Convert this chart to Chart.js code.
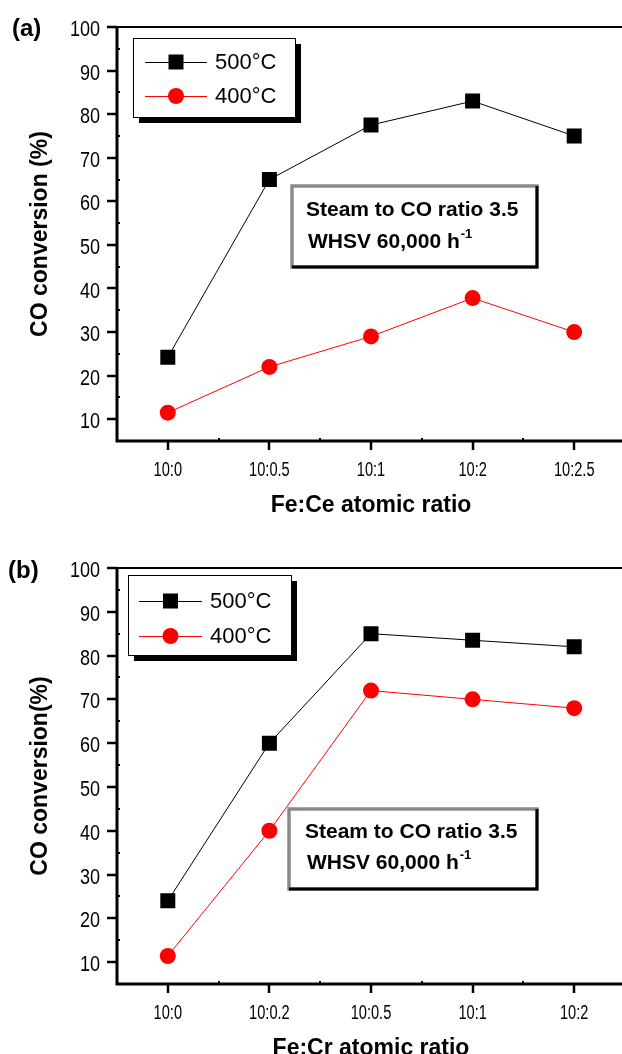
<!DOCTYPE html>
<html>
<head>
<meta charset="utf-8">
<script src="https://cdn.jsdelivr.net/npm/chart.js@4.4.0/dist/chart.umd.min.js"></script>
<style>
  html, body { margin: 0; padding: 0; background: #fff; overflow: hidden; width: 622px; height: 1054px; }
  canvas { position: absolute; left: 0; }
  #chartA { top: 0; }
  #chartB { top: 527px; }
</style>
</head>
<body>
<canvas id="chartA" width="640" height="527"></canvas>
<canvas id="chartB" width="640" height="545"></canvas>
<script>
// panel (a): Fe:Ce
const ceRatios = ['10:0', '10:0.5', '10:1', '10:2', '10:2.5'];
const ce500 = [24.2, 65, 77.5, 83, 75];
const ce400 = [11.5, 22, 29, 37.8, 30];

// panel (b): Fe:Cr
const crRatios = ['10:0', '10:0.2', '10:0.5', '10:1', '10:2'];
const cr500 = [24, 60, 85, 83.5, 82];
const cr400 = [11.4, 40, 72, 70, 68];

const yLabelTicks = [10, 20, 30, 40, 50, 60, 70, 80, 90, 100];
const yMinorTicks = [15, 25, 35, 45, 55, 65, 75, 85, 95];
const seriesNames = ['500°C', '400°C'];
const noteLines = ['Steam to CO ratio 3.5', 'WHSV 60,000 h'];

const FONT = "'Liberation Sans', Arial, sans-serif";

function marker(ctx, style, x, y) {
  ctx.beginPath();
  if (style === 'rect') {
    ctx.fillStyle = '#000';
    ctx.fillRect(x - 7.5, y - 7.5, 15, 15);
  } else {
    ctx.fillStyle = '#ff0000';
    ctx.arc(x, y, 8, 0, Math.PI * 2);
    ctx.fill();
  }
}

// squeezed text, the original uses a narrow face
function narrowText(ctx, text, x, y, sx) {
  ctx.save();
  ctx.translate(x, y);
  ctx.scale(sx, 1);
  ctx.fillText(text, 0, 0);
  ctx.restore();
}

const decor = {
  id: 'decor',
  afterDraw(chart, args, o) {
    const { ctx, chartArea: a, scales: { x, y } } = chart;
    ctx.save();
    ctx.strokeStyle = '#000';
    ctx.lineCap = 'butt';

    // frame
    ctx.lineWidth = 2;
    ctx.beginPath();
    ctx.moveTo(a.left, a.top);
    ctx.lineTo(a.right + 30, a.top);
    ctx.stroke();
    ctx.lineWidth = 3;
    ctx.beginPath();
    ctx.moveTo(a.left, a.top - 1);
    ctx.lineTo(a.left, a.bottom + 1.5);
    ctx.moveTo(a.left - 1.5, a.bottom);
    ctx.lineTo(a.right + 30, a.bottom);
    ctx.stroke();

    // y ticks + labels
    ctx.lineWidth = 2.5;
    ctx.beginPath();
    yLabelTicks.forEach(v => {
      const py = Math.round(y.getPixelForValue(v));
      ctx.moveTo(a.left - 10, py);
      ctx.lineTo(a.left, py);
    });
    ctx.stroke();
    ctx.lineWidth = 2;
    ctx.beginPath();
    yMinorTicks.forEach(v => {
      const py = Math.round(y.getPixelForValue(v));
      ctx.moveTo(a.left, py);
      ctx.lineTo(a.left + 3, py);
    });
    ctx.stroke();
    ctx.fillStyle = '#000';
    ctx.font = '22px ' + FONT;
    ctx.textAlign = 'right';
    ctx.textBaseline = 'middle';
    yLabelTicks.forEach(v => {
      narrowText(ctx, String(v), a.left - 17, y.getPixelForValue(v) + 3, 0.82);
    });

    // x ticks + labels
    const labels = chart.data.labels;
    const n = labels.length;
    const step = x.getPixelForValue(1) - x.getPixelForValue(0);
    ctx.lineWidth = 2.5;
    ctx.beginPath();
    for (let i = 0; i < n; i++) {
      const px = Math.round(x.getPixelForValue(i));
      ctx.moveTo(px, a.bottom);
      ctx.lineTo(px, a.bottom + 9);
    }
    ctx.stroke();
    ctx.lineWidth = 2;
    ctx.beginPath();
    for (let i = 0; i < n; i++) {
      const px = Math.round(x.getPixelForValue(i) + step / 2);
      ctx.moveTo(px, a.bottom);
      ctx.lineTo(px, a.bottom - 3);
    }
    ctx.stroke();
    ctx.font = '20px ' + FONT;
    ctx.textAlign = 'center';
    for (let i = 0; i < n; i++) {
      narrowText(ctx, labels[i], x.getPixelForValue(i), a.bottom + o.xLabelDy, 0.73);
    }

    // panel letter
    ctx.font = 'bold 24px ' + FONT;
    ctx.textAlign = 'left';
    ctx.fillText(o.letter, o.letterX, o.letterY);

    // legend box
    const L = o.legend;
    ctx.fillStyle = '#000';
    ctx.fillRect(L.x + 6, L.y + 6, L.w, L.h);
    ctx.fillStyle = '#fff';
    ctx.fillRect(L.x, L.y, L.w, L.h);
    ctx.lineWidth = 1;
    ctx.strokeStyle = '#000';
    ctx.strokeRect(L.x + 0.5, L.y + 0.5, L.w, L.h);
    chart.data.datasets.forEach((ds, i) => {
      const ly = L.rows[i];
      ctx.strokeStyle = ds.borderColor;
      ctx.lineWidth = 1;
      ctx.beginPath();
      ctx.moveTo(L.lineX0, ly + 0.5);
      ctx.lineTo(L.lineX1, ly + 0.5);
      ctx.stroke();
      marker(ctx, ds.pointStyle, (L.lineX0 + L.lineX1) / 2, ly);
      ctx.fillStyle = '#000';
      ctx.font = '22px ' + FONT;
      ctx.textBaseline = 'middle';
      ctx.fillText(ds.label, L.textX, ly + 1);
    });

    // note box
    const B = o.note;
    ctx.fillStyle = '#fff';
    ctx.fillRect(B.x, B.y, B.w, B.h);
    ctx.lineWidth = 3.5;
    ctx.strokeStyle = '#8a8a8a';
    ctx.strokeRect(B.x, B.y, B.w, B.h);
    ctx.lineWidth = 3;
    ctx.strokeStyle = '#000';
    ctx.beginPath();
    ctx.moveTo(B.x + B.w, B.y);
    ctx.lineTo(B.x + B.w, B.y + B.h + 1.5);
    ctx.moveTo(B.x, B.y + B.h);
    ctx.lineTo(B.x + B.w + 1.5, B.y + B.h);
    ctx.stroke();
    ctx.fillStyle = '#000';
    ctx.font = 'bold 21px ' + FONT;
    ctx.textBaseline = 'middle';
    ctx.fillText(noteLines[0], B.t1x, B.t1y);
    ctx.fillText(noteLines[1], B.t2x, B.t2y);
    const w = ctx.measureText(noteLines[1]).width;
    ctx.font = 'bold 13px ' + FONT;
    ctx.fillText('-1', B.t2x + w + 1, B.t2y - 8);
    ctx.restore();
  }
};

function makeChart(id, labels, s500, s400, xTitle, opts) {
  return new Chart(document.getElementById(id), {
    type: 'line',
    data: {
      labels: labels,
      datasets: [
        {
          label: seriesNames[0], data: s500,
          borderColor: '#000', backgroundColor: '#000', borderWidth: 1,
          pointStyle: 'rect', pointRadius: 10.6, pointBorderWidth: 0,
          pointBackgroundColor: '#000', tension: 0
        },
        {
          label: seriesNames[1], data: s400,
          borderColor: '#ff0000', backgroundColor: '#ff0000', borderWidth: 1,
          pointStyle: 'circle', pointRadius: 8, pointBorderWidth: 0,
          pointBackgroundColor: '#ff0000', tension: 0
        }
      ]
    },
    options: {
      responsive: false,
      animation: false,
      devicePixelRatio: 1,
      layout: { padding: { left: 0, right: 15, top: opts.top, bottom: 0 } },
      plugins: {
        legend: { display: false },
        tooltip: { enabled: false },
        decor: opts
      },
      scales: {
        x: {
          type: 'category',
          offset: true,
          grid: { display: false, drawTicks: false },
          border: { display: false },
          ticks: { display: false },
          title: { display: true, text: xTitle, color: '#000', font: { family: FONT, size: 23, weight: 'bold' }, padding: { top: 0, bottom: opts.xTitlePad } },
          afterFit: s => { s.height = opts.xHeight; }
        },
        y: {
          min: 5, max: 100,
          grid: { display: false, drawTicks: false },
          border: { display: false },
          ticks: { display: false, stepSize: 5 },
          title: { display: true, text: opts.yTitle, color: '#000', font: { family: FONT, size: 23, weight: 'bold' }, padding: { top: 27, bottom: 0 } },
          afterFit: s => { s.width = 117; }
        }
      }
    },
    plugins: [decor]
  });
}

makeChart('chartA', ceRatios, ce500, ce400, 'Fe:Ce atomic ratio', {
  top: 27, xHeight: 86, xTitlePad: 8, xLabelDy: 29, yTitle: 'CO conversion (%)',
  letter: '(a)', letterX: 12, letterY: 29,
  legend: { x: 133, y: 38, w: 162, h: 79, rows: [62, 96], lineX0: 145, lineX1: 207, textX: 215 },
  note: { x: 292, y: 186, w: 245, h: 81, t1x: 306, t1y: 210, t2x: 308, t2y: 242 }
});

makeChart('chartB', crRatios, cr500, cr400, 'Fe:Cr atomic ratio', {
  top: 41, xHeight: 88, xTitlePad: 10, xLabelDy: 29, yTitle: 'CO conversion(%)',
  letter: '(b)', letterX: 8, letterY: 44,
  legend: { x: 128, y: 48, w: 163, h: 80, rows: [74, 109], lineX0: 139, lineX1: 202, textX: 210 },
  note: { x: 289, y: 282, w: 248, h: 80, t1x: 305, t1y: 305, t2x: 307, t2y: 336 }
});
</script>
</body>
</html>
